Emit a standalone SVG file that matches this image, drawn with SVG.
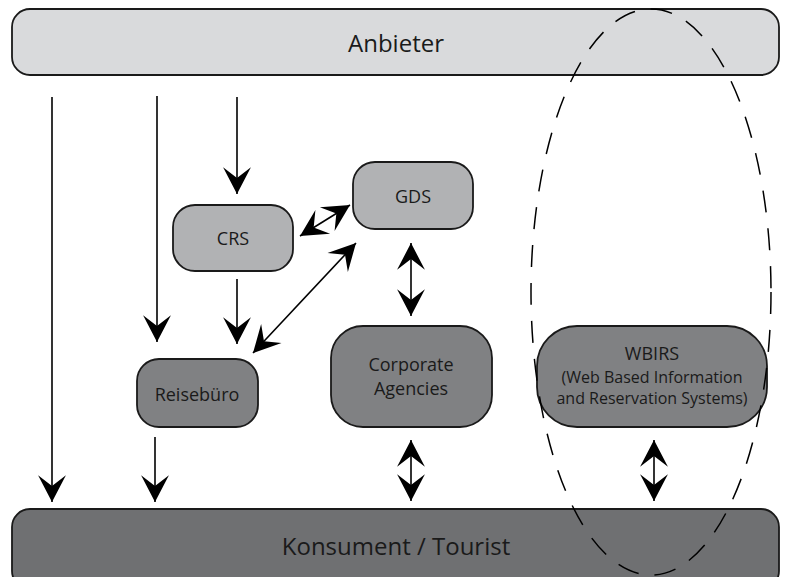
<svg xmlns="http://www.w3.org/2000/svg" width="790" height="577" viewBox="0 0 790 577">
<defs>
<style>
.bar{stroke:#1a1a1a;stroke-width:1.8}
.light{fill:#d9dadc}
.mid{fill:#b1b2b4;stroke:#1a1a1a;stroke-width:1.8}
.dark{fill:#808183;stroke:#1a1a1a;stroke-width:1.8}
.bottom{fill:#6f7072}
text{font-family:"Open Sans","Liberation Sans",sans-serif;fill:#1a1a1a;text-anchor:middle}
.big{font-size:24px}
.small{font-size:18px}
.tiny{font-size:16px}
.conn line{stroke:#000;stroke-width:1.6;fill:none}
.one{marker-end:url(#ah)}
.two{marker-end:url(#ah);marker-start:url(#ahs)}
</style>
<marker id="ah" markerUnits="userSpaceOnUse" markerWidth="30" markerHeight="30" viewBox="-26 -14 28 28" refX="0" refY="0" orient="auto">
<path d="M0,0 L-25,-13 L-15,0 L-25,13 Z" fill="#000"/>
</marker>
<marker id="ahs" markerUnits="userSpaceOnUse" markerWidth="30" markerHeight="30" viewBox="-2 -14 28 28" refX="0" refY="0" orient="auto">
<path d="M0,0 L25,-13 L15,0 L25,13 Z" fill="#000"/>
</marker>
</defs>
<rect width="790" height="577" fill="#fff"/>
<g id="anbieter">
<rect class="bar light" x="12" y="9" width="767" height="66" rx="18"/>
<text class="big" x="396" y="52">Anbieter</text>
</g>
<g id="konsument">
<rect class="bar bottom" x="12" y="509" width="767" height="80" rx="18"/>
<text class="big" x="396" y="555">Konsument / Tourist</text>
</g>
<g id="crs">
<rect class="mid" x="173" y="205" width="120" height="66" rx="22"/>
<text class="small" x="233" y="245">CRS</text>
</g>
<g id="gds">
<rect class="mid" x="353" y="162" width="120" height="67" rx="22"/>
<text class="small" x="413" y="203">GDS</text>
</g>
<g id="reiseburo">
<rect class="dark" x="137" y="359" width="121" height="68" rx="22"/>
<text class="small" x="197" y="401">Reisebüro</text>
</g>
<g id="corporate">
<rect class="dark" x="331" y="326" width="161" height="101" rx="32"/>
<text class="small" x="411" y="371">Corporate</text>
<text class="small" x="411" y="395">Agencies</text>
</g>
<g id="wbirs">
<rect class="dark" x="537" y="326" width="230" height="101" rx="40"/>
<text class="small" x="652" y="360">WBIRS</text>
<text class="tiny" x="652" y="383">(Web Based Information</text>
<text class="tiny" x="652" y="404">and Reservation Systems)</text>
</g>
<g id="connectors" class="conn">
<line class="one" x1="52" y1="97" x2="52" y2="502"/>
<line class="one" x1="157" y1="96" x2="157" y2="342"/>
<line class="one" x1="237" y1="97" x2="237" y2="194"/>
<line class="one" x1="237" y1="279" x2="237" y2="344"/>
<line class="one" x1="155" y1="437" x2="155" y2="502"/>
<line class="two" x1="300" y1="236" x2="350" y2="205"/>
<line class="two" x1="253" y1="353" x2="356" y2="243"/>
<line class="two" x1="411" y1="243" x2="411" y2="316"/>
<line class="two" x1="411" y1="440" x2="411" y2="501"/>
<line class="two" x1="654" y1="440" x2="654" y2="501"/>
</g>
<g id="wbirs-scope">
<ellipse cx="651" cy="292" rx="120" ry="283" fill="none" stroke="#000" stroke-width="1.5" stroke-dasharray="22 16"/>
</g>
</svg>
